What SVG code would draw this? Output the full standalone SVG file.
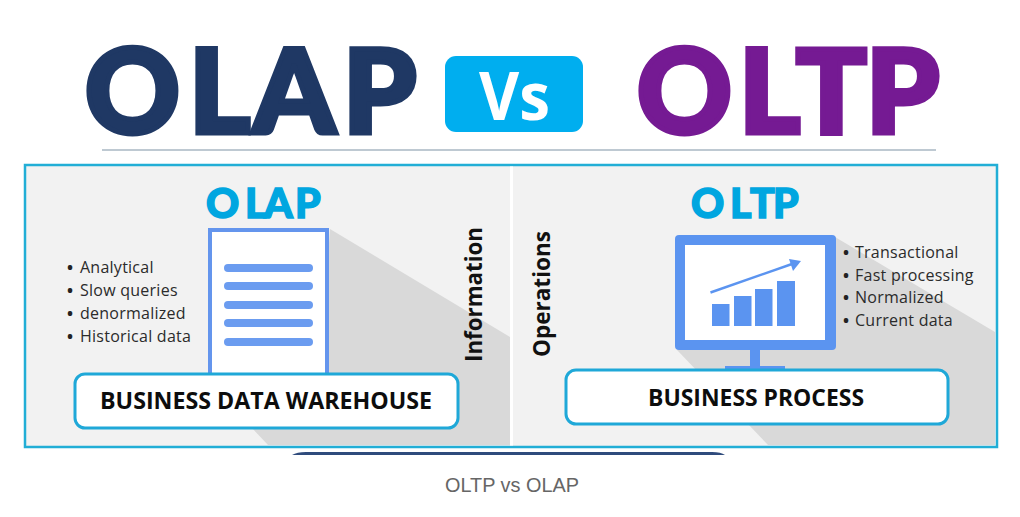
<svg xmlns="http://www.w3.org/2000/svg" width="1020" height="517" viewBox="0 0 1020 517">
<style>
.title{font-family:"Lato","Open Sans","Liberation Sans",sans-serif;font-weight:900;font-size:117px;stroke-width:5px}
.sub{font-family:"Lato","Open Sans","Liberation Sans",sans-serif;font-weight:900;font-size:41px;fill:#00a6e0;stroke:#00a6e0;stroke-width:1.5px}
.li{font-family:"Open Sans","Liberation Sans",sans-serif;font-size:16px;letter-spacing:.25px;fill:#2b2b2b}
.dot{font-weight:700;fill:#222}
.lab{font-family:"Open Sans","Liberation Sans",sans-serif;font-weight:700;font-size:23.5px;fill:#0d0d0d}
.side{font-family:"Open Sans","Liberation Sans",sans-serif;font-weight:700;font-size:23px;fill:#111}
.box{fill:#fff;stroke:#1fa8d8;stroke-width:3}
.blue{fill:#5b94f0}
.bar{fill:#6b9cf0}
.shadow{fill:#d9d9d9}
</style>
<rect width="1020" height="517" fill="#fff"/>
<g id="header">
<text class="title" y="132.500" fill="#1f3864" stroke="#1f3864" x="85 189 253 343">OLAP</text>
<rect x="445" y="56" width="138" height="76" rx="11" fill="#00aeef"/>
<text x="479" y="120" font-family="Open Sans, Liberation Sans, sans-serif" font-weight="700" font-size="66" fill="#fff" textLength="71" lengthAdjust="spacingAndGlyphs">Vs</text>
<text class="title" y="132.500" fill="#751a93" stroke="#751a93" x="637 739 796 866">OLTP</text>
<line x1="102" y1="150" x2="936" y2="150" stroke="#7f93a6" stroke-width="1.2"/>
</g>
<g id="panel">
<rect x="25" y="165" width="972" height="282" fill="#f2f2f2" stroke="#22aed6" stroke-width="2.5"/>
<polygon class="shadow" points="330,229 510,337 510,445 268,445 250,426 320,370"/>
<polygon class="shadow" points="835,237 995,332 995,445 768,445 677,350"/>
<rect x="510" y="166.500" width="3" height="279" fill="#fff"/>
</g>
<g id="olap">
<text class="sub" y="218" x="206 245 264 295">OLAP</text>
<rect x="210" y="230" width="117" height="150" fill="#fff" stroke="#6495ed" stroke-width="4"/>
<rect class="bar" x="224" y="264" width="89" height="8" rx="4"/>
<rect class="bar" x="224" y="282" width="89" height="8" rx="4"/>
<rect class="bar" x="224" y="301" width="89" height="8" rx="4"/>
<rect class="bar" x="224" y="319" width="89" height="8" rx="4"/>
<rect class="bar" x="224" y="338" width="89" height="8" rx="4"/>
<text class="li" y="273"><tspan class="dot" x="67">•</tspan><tspan x="80">Analytical</tspan></text>
<text class="li" y="296"><tspan class="dot" x="67">•</tspan><tspan x="80">Slow queries</tspan></text>
<text class="li" y="319"><tspan class="dot" x="67">•</tspan><tspan x="80">denormalized</tspan></text>
<text class="li" y="342"><tspan class="dot" x="67">•</tspan><tspan x="80">Historical data</tspan></text>
<rect class="box" x="75" y="374" width="383" height="54" rx="10"/>
<text class="lab" x="100" y="408.500" textLength="332" lengthAdjust="spacingAndGlyphs">BUSINESS DATA WAREHOUSE</text>
<text class="side" transform="translate(482 362) rotate(-90)" textLength="135" lengthAdjust="spacingAndGlyphs">Information</text>
</g>
<g id="oltp">
<text class="sub" y="218" x="691 730 750 773">OLTP</text>
<rect class="blue" x="750" y="348" width="10" height="20"/>
<rect class="blue" x="725" y="366" width="60" height="4"/>
<rect class="blue" x="675" y="235" width="161" height="115" rx="4"/>
<rect x="685" y="245" width="140" height="95" fill="#fff"/>
<rect class="blue" x="712" y="304" width="17.500" height="22"/>
<rect class="blue" x="734" y="296" width="17.500" height="30"/>
<rect class="blue" x="755" y="289" width="17.500" height="37"/>
<rect class="blue" x="777" y="281" width="18" height="45"/>
<line x1="710.500" y1="292.500" x2="792" y2="264" stroke="#5b94f0" stroke-width="2.500"/>
<polygon class="blue" points="801,261 789,259 793,271"/>
<text class="li" y="258"><tspan class="dot" x="843">•</tspan><tspan x="855">Transactional</tspan></text>
<text class="li" y="281"><tspan class="dot" x="843">•</tspan><tspan x="855">Fast processing</tspan></text>
<text class="li" y="303"><tspan class="dot" x="843">•</tspan><tspan x="855">Normalized</tspan></text>
<text class="li" y="326"><tspan class="dot" x="843">•</tspan><tspan x="855">Current data</tspan></text>
<rect class="box" x="566" y="370" width="382" height="54" rx="10"/>
<text class="lab" x="648" y="405.500" textLength="216" lengthAdjust="spacingAndGlyphs">BUSINESS PROCESS</text>
<text class="side" transform="translate(550 357) rotate(-90)" textLength="126" lengthAdjust="spacingAndGlyphs">Operations</text>
</g>
<g id="footer">
<path d="M292 455 Q297 452 306 452 H712 Q721 452 725 455 Z" fill="#2f4b7c"/>
<text x="445" y="492" font-family="Liberation Sans, Arial, sans-serif" font-size="19.500" fill="#666" textLength="134" lengthAdjust="spacingAndGlyphs">OLTP vs OLAP</text>
</g>
</svg>
